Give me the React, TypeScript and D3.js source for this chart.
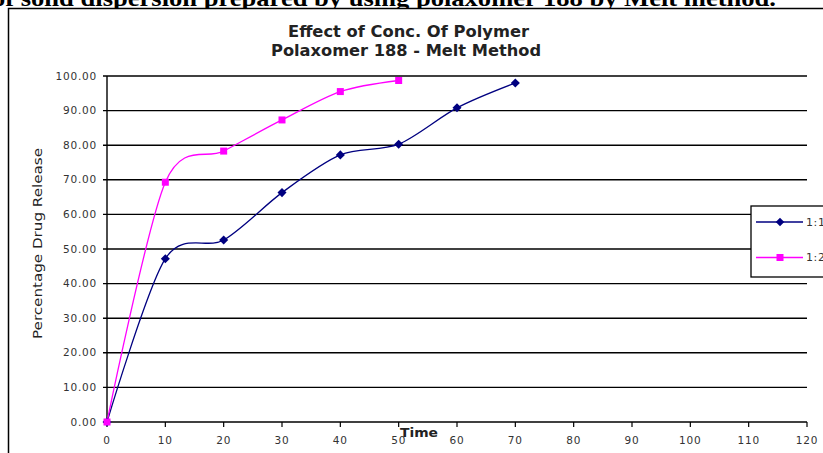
import { useMemo } from 'react';
import * as d3 from 'd3';

// Release data
const TIMES = [0, 10, 20, 30, 40, 50, 60, 70];
const RATIO_1_1 = [0, 47.2, 52.6, 66.3, 77.2, 80.3, 90.8, 98.0];
const RATIO_1_2 = [0, 69.3, 78.3, 87.3, 95.5, 98.7];
const SERIES_NAMES = ['1:1', '1:2'];
const X_TICKS = d3.range(0, 121, 10);
const Y_TICKS = d3.range(0, 101, 10);

const WIDTH = 823;
const HEIGHT = 453;
const PLOT = { left: 107, right: 807, top: 76, bottom: 422 };

const BLUE = '#000080';
const PINK = '#ff00ff';

export default function App() {
  const { x, y, blueLine, pinkLine, blueData, pinkData } = useMemo(() => {
    const x = d3.scaleLinear().domain([0, 120]).range([PLOT.left, PLOT.right]);
    const y = d3.scaleLinear().domain([0, 100]).range([PLOT.bottom, PLOT.top]);
    const blueData = TIMES.map((t, i) => ({ t, v: RATIO_1_1[i] }));
    const pinkData = RATIO_1_2.map((v, i) => ({ t: TIMES[i], v }));
    const line = d3
      .line<{ t: number; v: number }>()
      .x((d) => x(d.t))
      .y((d) => y(d.v))
      .curve(d3.curveCardinal.tension(0.1));
    return {
      x,
      y,
      blueData,
      pinkData,
      blueLine: line(blueData) ?? '',
      pinkLine: line(pinkData) ?? '',
    };
  }, []);

  const font = '"DejaVu Sans", Verdana, sans-serif';

  return (
    <svg
      width={WIDTH}
      height={HEIGHT}
      viewBox={`0 0 ${WIDTH} ${HEIGHT}`}
      style={{ position: 'absolute', left: 0, top: 0, background: '#fff' }}
    >
      {/* cropped document caption above the chart */}
      <text
        x={-8}
        y={6}
        textLength={784}
        lengthAdjust="spacingAndGlyphs"
        fontFamily='"Liberation Serif", "Times New Roman", serif'
        fontWeight={700}
        fontSize={24}
        fill="#000"
      >
        of solid dispersion prepared by using polaxomer 188 by Melt method.
      </text>

      {/* chart frame */}
      <rect x={8.5} y={8.5} width={WIDTH} height={HEIGHT} fill="#fff" stroke="#000" strokeWidth={1.5} />

      {/* title */}
      <text
        x={288}
        y={37}
        textLength={241}
        lengthAdjust="spacingAndGlyphs"
        fontFamily={font}
        fontWeight={700}
        fontSize={15}
        fill="#222"
      >
        Effect of Conc. Of Polymer
      </text>
      <text
        x={271}
        y={55.5}
        textLength={270}
        lengthAdjust="spacingAndGlyphs"
        fontFamily={font}
        fontWeight={700}
        fontSize={15}
        fill="#222"
      >
        Polaxomer 188 - Melt Method
      </text>

      {/* gridlines + y ticks */}
      {Y_TICKS.map((t) => (
        <g key={t}>
          <line
            x1={PLOT.left - 4}
            x2={PLOT.right}
            y1={y(t)}
            y2={y(t)}
            stroke="#000"
            strokeWidth={1.4}
          />
          <text
            x={97}
            y={y(t)}
            dy="0.35em"
            textAnchor="end"
            fontFamily={font}
            fontSize={10.5}
            letterSpacing={0.8}
            fill="#333"
          >
            {t.toFixed(2)}
          </text>
        </g>
      ))}

      {/* y axis */}
      <line x1={PLOT.left} x2={PLOT.left} y1={PLOT.top} y2={PLOT.bottom} stroke="#000" strokeWidth={1.4} />

      {/* x ticks */}
      {X_TICKS.map((t) => (
        <g key={t}>
          <line x1={x(t)} x2={x(t)} y1={PLOT.bottom} y2={PLOT.bottom + 5} stroke="#000" strokeWidth={1.2} />
          <text
            x={x(t)}
            y={444}
            textAnchor="middle"
            fontFamily={font}
            fontSize={10.5}
            letterSpacing={0.8}
            fill="#333"
          >
            {t}
          </text>
        </g>
      ))}

      {/* axis titles */}
      <text
        transform={`translate(42,339) rotate(-90)`}
        textLength={191}
        lengthAdjust="spacingAndGlyphs"
        fontFamily={font}
        fontSize={13}
        fill="#222"
      >
        Percentage Drug Release
      </text>
      <text
        x={400}
        y={437}
        textLength={38}
        lengthAdjust="spacingAndGlyphs"
        fontFamily={font}
        fontWeight={700}
        fontSize={13}
        fill="#222"
      >
        Time
      </text>

      {/* series */}
      <path d={blueLine} fill="none" stroke={BLUE} strokeWidth={1.3} />
      <path d={pinkLine} fill="none" stroke={PINK} strokeWidth={1.3} />
      {blueData.map((d) => (
        <rect
          key={`b${d.t}`}
          x={-3.2}
          y={-3.2}
          width={6.4}
          height={6.4}
          fill={BLUE}
          transform={`translate(${x(d.t)},${y(d.v)}) rotate(45)`}
        />
      ))}
      {pinkData.map((d) => (
        <rect key={`p${d.t}`} x={x(d.t) - 3.5} y={y(d.v) - 3.5} width={7} height={7} fill={PINK} />
      ))}

      {/* legend */}
      <rect x={751} y={206} width={100} height={71} fill="#fff" stroke="#000" strokeWidth={1.3} />
      {SERIES_NAMES.map((name, i) => {
        const ly = 222 + i * 35.5;
        const color = i === 0 ? BLUE : PINK;
        return (
          <g key={name}>
            <line x1={756} x2={803} y1={ly} y2={ly} stroke={color} strokeWidth={1.3} />
            {i === 0 ? (
              <rect x={-3} y={-3} width={6} height={6} fill={color} transform={`translate(780,${ly}) rotate(45)`} />
            ) : (
              <rect x={776.5} y={ly - 3.5} width={7} height={7} fill={color} />
            )}
            <text x={806} y={ly} dy="0.35em" fontFamily={font} fontSize={11} letterSpacing={0.6} fill="#333">
              {name}
            </text>
          </g>
        );
      })}
    </svg>
  );
}
